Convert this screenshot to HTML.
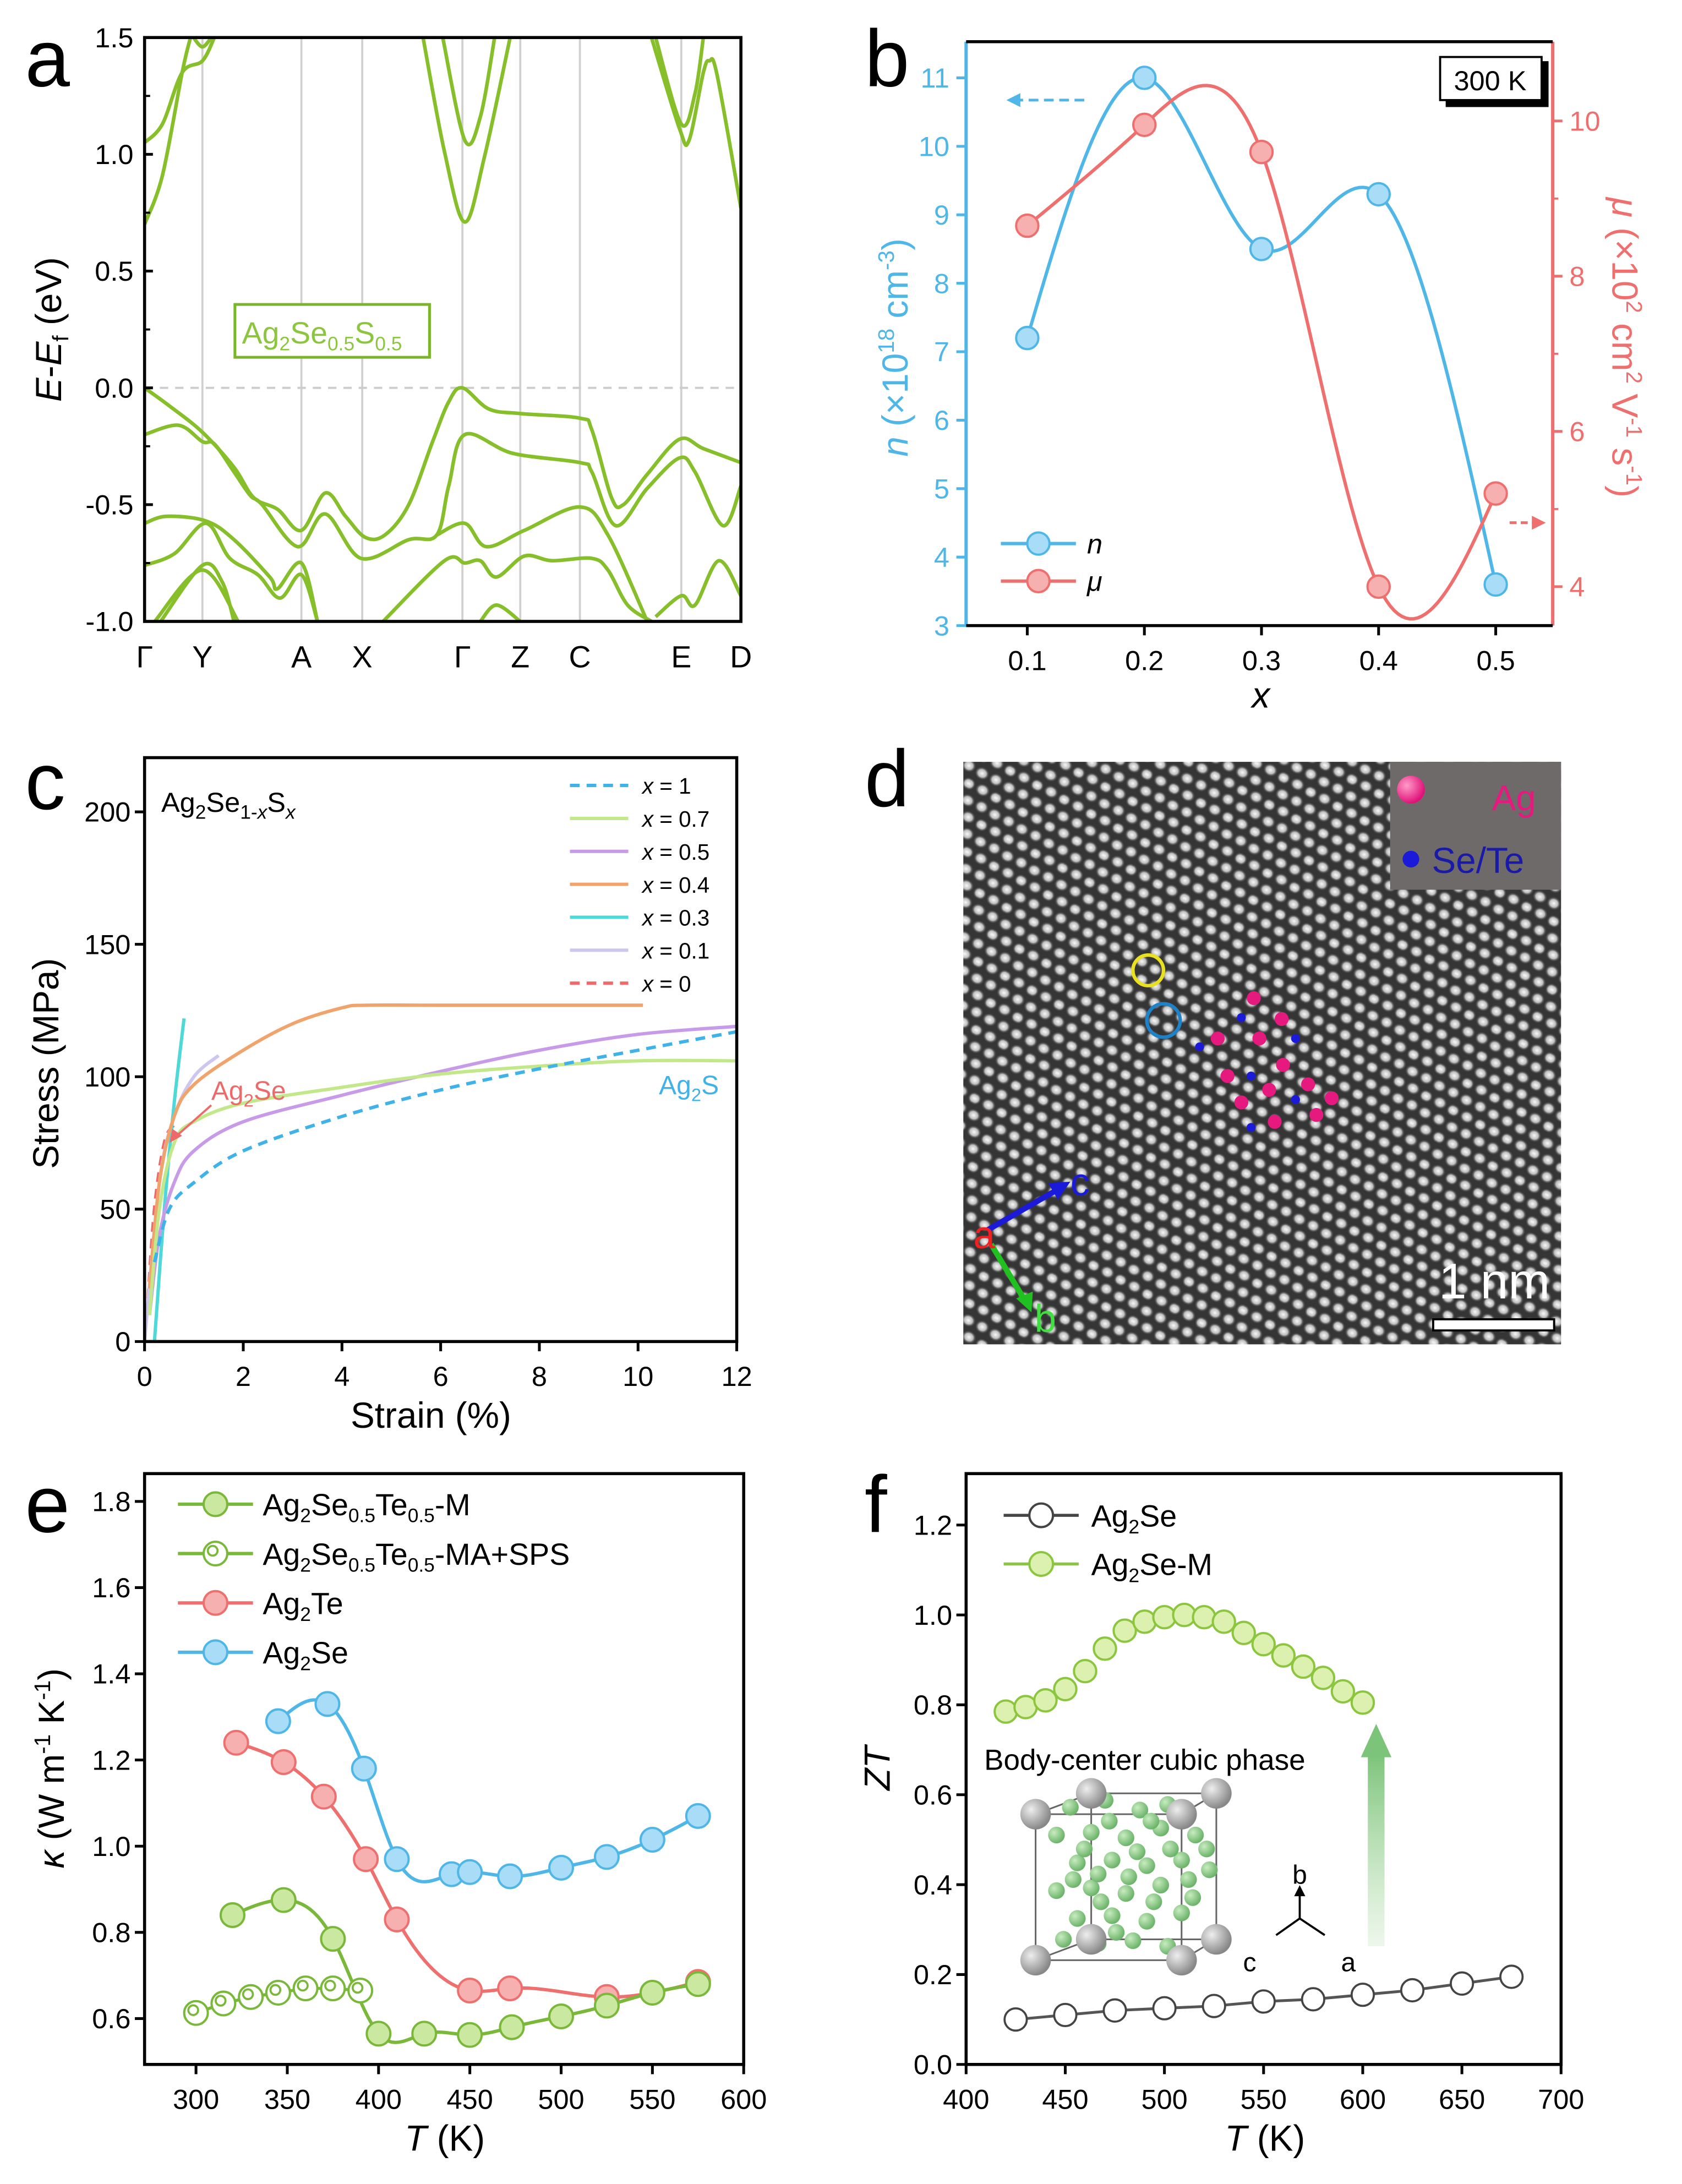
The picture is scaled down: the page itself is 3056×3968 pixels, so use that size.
<!DOCTYPE html>
<html><head><meta charset="utf-8"><title>Ag2Se figure</title>
<style>
html,body{margin:0;padding:0;background:#fff;}
svg{display:block;font-family:"Liberation Sans",sans-serif;}
</style></head>
<body>
<svg id="fig" xmlns="http://www.w3.org/2000/svg" width="3056" height="3968" viewBox="0 0 1210 1571" preserveAspectRatio="none">
<defs>
<radialGradient id="blob" cx="50%" cy="50%" r="50%">
<stop offset="0%" stop-color="#f8f8f8"/><stop offset="55%" stop-color="#bdbdbd"/><stop offset="100%" stop-color="#333" stop-opacity="0"/>
</radialGradient>
<pattern id="lattice" width="22" height="22" patternUnits="userSpaceOnUse" patternTransform="rotate(28)">
<rect width="22" height="22" fill="#353535"/>
<ellipse cx="5" cy="5.5" rx="5.6" ry="4.8" fill="url(#blob)"/>
<ellipse cx="16" cy="5" rx="5.4" ry="4.9" fill="url(#blob)"/>
<ellipse cx="11" cy="16" rx="5.6" ry="4.8" fill="url(#blob)"/>
<ellipse cx="21.5" cy="16.5" rx="4.6" ry="4.6" fill="url(#blob)"/>
<ellipse cx="0.5" cy="16.5" rx="4.6" ry="4.6" fill="url(#blob)"/>
</pattern>
<linearGradient id="greenArrow" x1="0" y1="1" x2="0" y2="0">
<stop offset="0%" stop-color="#a8d8a0" stop-opacity="0.2"/><stop offset="100%" stop-color="#7cc47a"/>
</linearGradient>
<radialGradient id="grayBall" cx="35%" cy="35%" r="65%"><stop offset="0%" stop-color="#eee"/><stop offset="100%" stop-color="#888"/></radialGradient>
<radialGradient id="greenBall" cx="35%" cy="35%" r="65%"><stop offset="0%" stop-color="#c8ecc0"/><stop offset="100%" stop-color="#6cb46a"/></radialGradient>
<radialGradient id="pinkBall" cx="35%" cy="35%" r="65%"><stop offset="0%" stop-color="#ff9cc8"/><stop offset="100%" stop-color="#e0127a"/></radialGradient>
</defs>
<g id="root"></g>
</svg>
<script>
// ---------- data (panel a: bands as [k(0..1), E]) ----------
const kLabels=['Γ','Y','A','X','Γ','Z','C','E','D'];
const kPos=[0,0.097,0.263,0.365,0.533,0.63,0.73,0.9,1];
const bandVB1=[[0,0],[.043,-.08],[.097,-.19],[.15,-.34],[.183,-.47],[.223,-.52],[.263,-.61],[.303,-.45],[.337,-.55],[.37,-.64],[.403,-.63],[.443,-.5],[.483,-.23],[.51,-.06],[.533,0],[.577,-.09],[.63,-.11],[.73,-.13],[.75,-.18],[.783,-.47],[.803,-.5],[.843,-.37],[.897,-.22],[.937,-.26],[1,-.32]];
const bandVB2=[[0,-.2],[.057,-.16],[.097,-.23],[.117,-.24],[.15,-.36],[.177,-.46],[.197,-.5],[.257,-.68],[.303,-.54],[.363,-.73],[.443,-.65],[.49,-.63],[.51,-.42],[.537,-.2],[.617,-.28],[.73,-.32],[.75,-.36],[.79,-.59],[.843,-.43],[.897,-.3],[.923,-.36],[.97,-.59],[1,-.42]];
const bandVB3=[[0,-.58],[.037,-.55],[.103,-.57],[.15,-.65],[.21,-.81],[.223,-.86],[.263,-.75],[.29,-1.0]];
const bandVB3b=[[.49,-.63],[.537,-.58],[.573,-.68],[.637,-.61],[.73,-.51],[.777,-.63],[.843,-1.0]];
const bandVB4=[[0,-.76],[.05,-.71],[.103,-.58],[.143,-.73],[.19,-.8],[.227,-.9],[.263,-.8],[.29,-1.0]];
const bandVB5=[[.027,-1],[.097,-.76],[.13,-.83],[.15,-1]];
const bandVB5b=[[.017,-1],[.097,-.78],[.157,-1]];
const bandVB6=[[.4,-1],[.503,-.74],[.537,-.75],[.563,-.74],[.59,-.81],[.637,-.72],[.683,-.74],[.75,-.73],[.777,-.78],[.81,-.93],[.85,-1]];
const bandVB7=[[.857,-.98],[.9,-.89],[.923,-.93],[.963,-.74],[1,-.89]];
const bandVB8=[[.563,-1],[.59,-.93],[.63,-1]];
const bandCB1=[[0,.7],[.03,.91],[.063,1.35],[.077,1.5]];
const bandCB2=[[0,1.05],[.03,1.13],[.063,1.35],[.097,1.4],[.117,1.5]];
const bandCB3=[[.082,1.5],[.097,1.46],[.112,1.5]];
const bandCB4=[[.467,1.5],[.503,1.01],[.537,.71],[.57,.99],[.613,1.5]];
const bandCB5=[[.5,1.5],[.537,1.06],[.563,1.16],[.587,1.5]];
const bandCB6=[[.85,1.5],[.897,1.11],[.913,1.06],[.937,1.35],[.947,1.4],[.96,1.34],[1,.77]];
const bandCB7=[[.857,1.5],[.9,1.13],[.923,1.26],[.937,1.5]];
const bands=[bandVB1,bandVB2,bandVB3,bandVB3b,bandVB4,bandVB5,bandVB5b,bandVB6,bandVB7,bandVB8,bandCB1,bandCB2,bandCB3,bandCB4,bandCB5,bandCB6,bandCB7];
// panel b
const bX=[0.1,0.2,0.3,0.4,0.5];
const bN=[7.2,11.0,8.5,9.3,3.6];
const bMu=[8.65,9.95,9.6,4.0,5.2];
// panel c: [strain, stress]
const cLabels=['x = 1','x = 0.7','x = 0.5','x = 0.4','x = 0.3','x = 0.1','x = 0'];
const cX1=[[0.2,30],[0.5,50],[1,60],[2,72],[4,85],[6,95],[8,103],[10,110],[12,117]];
const cX07=[[0.1,10],[0.3,50],[0.6,75],[1,83],[2,90],[4,96],[6,101],[8,104],[10,106],[12,106]];
const cX05=[[0.1,10],[0.3,40],[0.6,60],[1,72],[2,83],[4,93],[6,102],[8,110],[10,116],[12,119]];
const cX04=[[0.1,20],[0.3,60],[0.6,85],[1,97],[2,110],[3,120],[4,126],[4.5,127],[6,127],[10.1,127]];
const cX03=[[0.2,0],[0.4,50],[0.6,90],[0.8,122]];
const cX01=[[0,0],[0.3,60],[0.6,85],[1,100],[1.5,108]];
const cX0=[[0.05,10],[0.2,50],[0.4,75],[0.6,82]];
// panel e
const eSeT=[345,372,392,410,440,450,472,500,525,550,575];
const eSeK=[1.29,1.33,1.18,0.97,0.935,0.94,0.93,0.95,0.975,1.015,1.07];
const eTeT=[322,348,370,393,410,450,472,525,575];
const eTeK=[1.24,1.195,1.115,0.97,0.83,0.665,0.67,0.65,0.685];
const eMT=[320,348,375,400,425,450,473,500,525,550,575];
const eMK=[0.84,0.875,0.785,0.565,0.565,0.562,0.58,0.605,0.63,0.66,0.68];
const eMAT=[300,315,330,345,360,375,390];
const eMAK=[0.613,0.635,0.65,0.66,0.67,0.67,0.665];
// panel f
const fSeT=[425,450,475,500,525,550,575,600,625,650,675];
const fSeZT=[0.1,0.11,0.12,0.125,0.13,0.14,0.145,0.155,0.165,0.18,0.195];
const fMT=[420,430,440,450,460,470,480,490,500,510,520,530,540,550,560,570,580,590,600];
const fMZT=[0.785,0.795,0.81,0.835,0.875,0.925,0.965,0.985,0.995,1.0,0.995,0.985,0.96,0.935,0.91,0.885,0.86,0.83,0.805];

// ---------- helpers ----------
const NS='http://www.w3.org/2000/svg';
const root=document.getElementById('root');
function mk(tag,attrs,name,parent,txt){
  const el=document.createElementNS(NS,tag);
  for(const k in attrs)el.setAttribute(k,attrs[k]);
  
  
  if(txt!==undefined)el.innerHTML=txt;
  (parent||root).appendChild(el);return el;
}
function lin(d0,d1,p0,p1){return v=>p0+(v-d0)*(p1-p0)/(d1-d0);}
function catmull(pts){
  if(pts.length<2)return '';
  let d='M'+pts[0][0].toFixed(2)+','+pts[0][1].toFixed(2);
  for(let i=0;i<pts.length-1;i++){
    const p0=pts[i-1]||pts[i],p1=pts[i],p2=pts[i+1],p3=pts[i+2]||p2;
    const c1=[p1[0]+(p2[0]-p0[0])/6,p1[1]+(p2[1]-p0[1])/6];
    const c2=[p2[0]-(p3[0]-p1[0])/6,p2[1]-(p3[1]-p1[1])/6];
    d+=`C${c1[0].toFixed(2)},${c1[1].toFixed(2)} ${c2[0].toFixed(2)},${c2[1].toFixed(2)} ${p2[0].toFixed(2)},${p2[1].toFixed(2)}`;
  }
  return d;
}
function spline(xs,ys){
  const n=xs.length,h=[],a=[],l=[1],mu=[0],z=[0],c=new Array(n).fill(0),b=[],d=[];
  for(let i=0;i<n-1;i++)h.push(xs[i+1]-xs[i]);
  for(let i=1;i<n-1;i++)a[i]=3/h[i]*(ys[i+1]-ys[i])-3/h[i-1]*(ys[i]-ys[i-1]);
  for(let i=1;i<n-1;i++){l[i]=2*(xs[i+1]-xs[i-1])-h[i-1]*mu[i-1];mu[i]=h[i]/l[i];z[i]=(a[i]-h[i-1]*z[i-1])/l[i];}
  for(let j=n-2;j>=0;j--){c[j]=(z[j]||0)-(mu[j]||0)*c[j+1];b[j]=(ys[j+1]-ys[j])/h[j]-h[j]*(c[j+1]+2*c[j])/3;d[j]=(c[j+1]-c[j])/(3*h[j]);}
  return x=>{let i=0;while(i<n-2&&x>xs[i+1])i++;const t=x-xs[i];return ys[i]+b[i]*t+c[i]*t*t+d[i]*t*t*t;};
}
function splinePath(xs,ys,sx,sy){
  const f=spline(xs,ys);let d='';
  const N=120;
  for(let i=0;i<=N;i++){const x=xs[0]+(xs[xs.length-1]-xs[0])*i/N;d+=(i?'L':'M')+sx(x).toFixed(2)+','+sy(f(x)).toFixed(2);}
  return d;
}
function frame(x0,y0,x1,y1,name){mk('rect',{x:x0,y:y0,width:x1-x0,height:y1-y0,fill:'none',stroke:'#000','stroke-width':2.2},name);}
function txt(x,y,s,size,attrs,name){const a=Object.assign({x:x,y:y,'font-size':size},attrs||{});return mk('text',a,name,null,s);}

// ---------- panel letters ----------
[['a',18,62],['b',622,62],['c',18,582],['d',622,580],['e',18,1102],['f',622,1102]].forEach(p=>txt(p[1],p[2],p[0],58,{}, 'panel-label-'+p[0]));

// ---------- Panel a ----------
(function(){
  const X0=104,X1=533,Y0=27,Y1=447;
  const sx=lin(0,1,X0,X1), sy=lin(1.5,-1.0,Y0,Y1);
  kPos.slice(1,-1).forEach((k,i)=>mk('line',{x1:sx(k),x2:sx(k),y1:Y0,y2:Y1,stroke:'#d0d0d0','stroke-width':1.5},'k-gridline'));
  mk('line',{x1:X0,x2:X1,y1:sy(0),y2:sy(0),stroke:'#ccc','stroke-width':1.5,'stroke-dasharray':'6 5'},'fermi-level-line');
  const cp=mk('clipPath',{id:'clipA'},'clip-a');
  mk('rect',{x:X0,y:Y0,width:X1-X0,height:Y1-Y0},'clip-rect',cp);
  const g=mk('g',{'clip-path':'url(#clipA)'},'band-group');
  bands.forEach((b,i)=>mk('path',{d:catmull(b.map(p=>[sx(p[0]),sy(p[1])])),fill:'none',stroke:'#86bf2a','stroke-width':2.6,'stroke-linejoin':'round'},'band-'+i,g));
  frame(X0,Y0,X1,Y1,'plot-frame-a');
  [1.5,1.0,0.5,0.0,-0.5,-1.0].forEach(v=>{
    mk('line',{x1:X0,x2:X0+6,y1:sy(v),y2:sy(v),stroke:'#000','stroke-width':2},'y-tick-a');
    txt(X0-8,sy(v)+7,v.toFixed(1),20,{'text-anchor':'end'},'y-tick-label-a');
  });
  [1.25,0.75,0.25,-0.25,-0.75].forEach(v=>mk('line',{x1:X0,x2:X0+4,y1:sy(v),y2:sy(v),stroke:'#000','stroke-width':1.5},'y-minor-tick-a'));
  kPos.forEach((k,i)=>txt(sx(k),480,kLabels[i],22,{'text-anchor':'middle'},'k-label'));
  txt(0,0,'<tspan font-style="italic">E</tspan>-<tspan font-style="italic">E</tspan><tspan font-size="16" dy="5">f</tspan><tspan dy="-5"> (eV)</tspan>',26,{transform:'translate(44,237) rotate(-90)','text-anchor':'middle'},'y-axis-title-a');
  mk('rect',{x:169,y:219,width:140,height:38,fill:'#fff',stroke:'#7ab52a','stroke-width':2},'compound-label-box');
  txt(174,247,'Ag<tspan font-size="14" dy="5">2</tspan><tspan dy="-5">Se</tspan><tspan font-size="14" dy="5">0.5</tspan><tspan dy="-5">S</tspan><tspan font-size="14" dy="5">0.5</tspan>',22,{fill:'#8cc63f'},'compound-label');
})();

// ---------- Panel b ----------
(function(){
  const X0=695,X1=1117,Y0=30,Y1=450;
  const sx=lin(0.1,0.5,739,1076), syL=lin(3,11,450,56), syR=lin(4,10,422,87);
  const blue='#4fb6e8', red='#ef6f6f';
  mk('path',{d:splinePath(bX,bN,sx,syL),fill:'none',stroke:blue,'stroke-width':2.4},'n-curve');
  mk('path',{d:splinePath(bX,bMu,sx,syR),fill:'none',stroke:red,'stroke-width':2.4},'mu-curve');
  bX.forEach((x,i)=>mk('circle',{cx:sx(x),cy:syL(bN[i]),r:8,fill:'#a9dcf6',stroke:blue,'stroke-width':1.6},'n-point'));
  bX.forEach((x,i)=>mk('circle',{cx:sx(x),cy:syR(bMu[i]),r:8,fill:'#f6b0b0',stroke:red,'stroke-width':1.6},'mu-point'));
  mk('line',{x1:X0,x2:X0,y1:Y0,y2:Y1,stroke:blue,'stroke-width':2.4},'left-axis-b');
  mk('line',{x1:X1,x2:X1,y1:Y0,y2:Y1,stroke:red,'stroke-width':2.4},'right-axis-b');
  mk('line',{x1:X0,x2:X1,y1:Y1,y2:Y1,stroke:'#000','stroke-width':2.2},'bottom-axis-b');
  mk('line',{x1:X0,x2:X1,y1:Y0,y2:Y0,stroke:'#000','stroke-width':2.2},'top-axis-b');
  [3,4,5,6,7,8,9,10,11].forEach(v=>{mk('line',{x1:X0,x2:X0-7,y1:syL(v),y2:syL(v),stroke:blue,'stroke-width':2},'y-tick-left-b');
    txt(X0-12,syL(v)+7,v,20,{'text-anchor':'end',fill:blue},'y-tick-label-left-b');});
  [4,6,8,10].forEach(v=>{mk('line',{x1:X1,x2:X1+7,y1:syR(v),y2:syR(v),stroke:red,'stroke-width':2},'y-tick-right-b');
    txt(X1+12,syR(v)+7,v,20,{fill:red},'y-tick-label-right-b');});
  [5,7,9].forEach(v=>mk('line',{x1:X1,x2:X1+4,y1:syR(v),y2:syR(v),stroke:red,'stroke-width':1.5},'y-minor-right-b'));
  bX.forEach(v=>{mk('line',{x1:sx(v),x2:sx(v),y1:Y1,y2:Y1+7,stroke:'#000','stroke-width':2},'x-tick-b');
    txt(sx(v),Y1+32,v.toFixed(1),20,{'text-anchor':'middle'},'x-tick-label-b');});
  txt(907,509,'x',26,{'font-style':'italic','text-anchor':'middle'},'x-axis-title-b');
  txt(0,0,'<tspan font-style="italic">n</tspan> (×10<tspan font-size="16" dy="-10">18</tspan><tspan dy="10"> cm</tspan><tspan font-size="16" dy="-10">-3</tspan><tspan dy="10">)</tspan>',26,{transform:'translate(653,250) rotate(-90)','text-anchor':'middle',fill:blue},'y-axis-title-left-b');
  txt(0,0,'<tspan font-style="italic">μ</tspan> (×10<tspan font-size="16" dy="-10">2</tspan><tspan dy="10"> cm</tspan><tspan font-size="16" dy="-10">2</tspan><tspan dy="10"> V</tspan><tspan font-size="16" dy="-10">-1</tspan><tspan dy="10"> s</tspan><tspan font-size="16" dy="-10">-1</tspan><tspan dy="10">)</tspan>',26,{transform:'translate(1160,250) rotate(90)','text-anchor':'middle',fill:red},'y-axis-title-right-b');
  mk('rect',{x:1040,y:44,width:74,height:33,fill:'#000'},'temp-box-shadow');
  mk('rect',{x:1036,y:41,width:73,height:31,fill:'#fff',stroke:'#000','stroke-width':1.5},'temp-box');
  txt(1072,65,'300 K',20,{'text-anchor':'middle'},'temp-label');
  mk('line',{x1:780,x2:732,y1:72,y2:72,stroke:blue,'stroke-width':2,'stroke-dasharray':'7 4'},'n-axis-arrow');
  mk('path',{d:'M724,72 L734,67 L734,77 Z',fill:blue},'n-axis-arrowhead');
  mk('line',{x1:1086,x2:1104,y1:376,y2:376,stroke:red,'stroke-width':2,'stroke-dasharray':'5 3'},'mu-axis-arrow');
  mk('path',{d:'M1112,376 L1102,371 L1102,381 Z',fill:red},'mu-axis-arrowhead');
  [[391,blue,'#a9dcf6','n'],[418,red,'#f6b0b0','μ']].forEach(l=>{
    mk('line',{x1:720,x2:774,y1:l[0],y2:l[0],stroke:l[1],'stroke-width':2.4},'legend-line-b');
    mk('circle',{cx:747,cy:l[0],r:8,fill:l[2],stroke:l[1],'stroke-width':1.6},'legend-marker-b');
    txt(782,l[0]+7,l[3],20,{'font-style':'italic'},'legend-label-b');
  });
})();

// ---------- Panel c ----------
(function(){
  const X0=104,X1=530,Y0=545,Y1=965;
  const sx=lin(0,12,X0,X1), sy=lin(0,200,Y1,584);
  const series=[[cX1,'#3fb2ea','7 5'],[cX07,'#c2e88a',''],[cX05,'#c79be8',''],[cX04,'#f0a46c',''],[cX03,'#4fd8d8',''],[cX01,'#cfc6f0',''],[cX0,'#ee6a6a','7 5']];
  const cp=mk('clipPath',{id:'clipC'},'clip-c');
  mk('rect',{x:X0,y:Y0,width:X1-X0,height:Y1-Y0},'clip-rect-c',cp);
  const g=mk('g',{'clip-path':'url(#clipC)'},'stress-curves');
  series.slice().reverse().forEach((s,i)=>mk('path',{d:catmull(s[0].map(p=>[sx(p[0]),sy(p[1])])),fill:'none',stroke:s[1],'stroke-width':2.4,'stroke-dasharray':s[2]},'stress-curve',g));
  frame(X0,Y0,X1,Y1,'plot-frame-c');
  [0,50,100,150,200].forEach(v=>{mk('line',{x1:X0,x2:X0-7,y1:sy(v),y2:sy(v),stroke:'#000','stroke-width':2},'y-tick-c');
    txt(X0-10,sy(v)+7,v,20,{'text-anchor':'end'},'y-tick-label-c');});
  [0,2,4,6,8,10,12].forEach(v=>{mk('line',{x1:sx(v),x2:sx(v),y1:Y1,y2:Y1+7,stroke:'#000','stroke-width':2},'x-tick-c');
    txt(sx(v),Y1+32,v,20,{'text-anchor':'middle'},'x-tick-label-c');});
  txt(0,0,'Stress (MPa)',26,{transform:'translate(42,765) rotate(-90)','text-anchor':'middle'},'y-axis-title-c');
  txt(310,1027,'Strain (%)',26,{'text-anchor':'middle'},'x-axis-title-c');
  txt(116,584,'Ag<tspan font-size="14" dy="5">2</tspan><tspan dy="-5">Se</tspan><tspan font-size="14" dy="5">1-<tspan font-style="italic">x</tspan></tspan><tspan dy="-5">S</tspan><tspan font-size="14" dy="5" font-style="italic">x</tspan>',20,{},'composition-label');
  series.forEach((s,i)=>{const y=565+i*23.7;
    mk('line',{x1:410,x2:452,y1:y,y2:y,stroke:s[1],'stroke-width':2.4,'stroke-dasharray':s[2]},'legend-line-c');
    txt(462,y+6,'<tspan font-style="italic">x</tspan>'+cLabels[i].slice(1),16,{},'legend-label-c');});
  txt(152,791,'Ag<tspan font-size="13" dy="5">2</tspan><tspan dy="-5">Se</tspan>',19,{fill:'#ee6a6a'},'ag2se-annotation');
  mk('line',{x1:152,x2:126,y1:795,y2:818,stroke:'#ee6a6a','stroke-width':1.5},'ag2se-arrow');
  mk('path',{d:'M122,822 L124,812 L131,817 Z',fill:'#ee6a6a'},'ag2se-arrowhead');
  txt(474,787,'Ag<tspan font-size="13" dy="5">2</tspan><tspan dy="-5">S</tspan>',19,{fill:'#3fb2ea'},'ag2s-annotation');
})();

// ---------- Panel d (TEM) ----------
(function(){
  mk('rect',{x:693,y:548,width:430,height:419,fill:'url(#lattice)'},'tem-image');
  mk('rect',{x:1000,y:548,width:123,height:92,fill:'#6e6a6a'},'tem-legend-box');
  mk('circle',{cx:1015,cy:568,r:10,fill:'url(#pinkBall)'},'ag-legend-ball');
  txt(1105,583,'Ag',26,{fill:'#e6197f','text-anchor':'end'},'ag-legend-label');
  mk('circle',{cx:1015,cy:618,r:6,fill:'#1a1ad8'},'se-legend-ball');
  txt(1030,628,'Se/Te',26,{fill:'#1a1aa8'},'se-legend-label');
  mk('circle',{cx:826,cy:698,r:11,fill:'none',stroke:'#e8e020','stroke-width':2.5},'yellow-circle');
  mk('circle',{cx:837,cy:734,r:12,fill:'none',stroke:'#1e82c8','stroke-width':2.5},'blue-circle');
  const agPts=[[902,718],[922,733],[876,747],[906,747],[923,766],[883,774],[941,780],[893,793],[913,784],[958,790],[947,802],[917,807]];
  const sePts=[[893,732],[932,747],[863,753],[900,774],[932,791],[900,811]];
  agPts.forEach(p=>mk('circle',{cx:p[0],cy:p[1],r:5,fill:'#e6197f'},'ag-atom-marker'));
  sePts.forEach(p=>mk('circle',{cx:p[0],cy:p[1],r:3.2,fill:'#1a1ad8'},'se-atom-marker'));
  mk('line',{x1:710,y1:885,x2:762,y2:855,stroke:'#1a1ad8','stroke-width':4},'c-axis-arrow');
  mk('path',{d:'M770,850 L754,851 L761,863 Z',fill:'#1a1ad8'},'c-axis-arrowhead');
  mk('line',{x1:713,y1:895,x2:737,y2:935,stroke:'#20c020','stroke-width':4},'b-axis-arrow');
  mk('path',{d:'M742,944 L731,934 L743,929 Z',fill:'#20c020'},'b-axis-arrowhead');
  txt(777,860,'c',28,{fill:'#1a1ad8','text-anchor':'middle'},'c-axis-label');
  txt(708,898,'a',28,{fill:'#f02020','text-anchor':'middle'},'a-axis-label');
  txt(752,958,'b',28,{fill:'#40e040','text-anchor':'middle'},'b-axis-label');
  txt(1075,934,'1 nm',36,{fill:'#fff','text-anchor':'middle'},'scale-bar-label');
  mk('rect',{x:1031,y:949,width:87,height:8,fill:'#fff',stroke:'#000','stroke-width':1.5},'scale-bar');
})();

// ---------- Panel e ----------
(function(){
  const X0=104,X1=535,Y0=1060,Y1=1485;
  const sx=lin(300,600,141,535), sy=lin(0.6,1.8,1452,1080);
  const green='#7ab83a',gfill='#cbe8a0',red='#ef6f6f',rfill='#f6b0b0',blue='#4fb6e8',bfill='#a9dcf6';
  mk('path',{d:splinePath(eSeT,eSeK,sx,sy),fill:'none',stroke:blue,'stroke-width':2.4},'ag2se-kappa-curve');
  mk('path',{d:splinePath(eTeT,eTeK,sx,sy),fill:'none',stroke:red,'stroke-width':2.4},'ag2te-kappa-curve');
  mk('path',{d:splinePath(eMT,eMK,sx,sy),fill:'none',stroke:green,'stroke-width':2.4},'m-kappa-curve');
  mk('path',{d:eMAT.map((t,i)=>(i?'L':'M')+sx(t)+','+sy(eMAK[i])).join(''),fill:'none',stroke:green,'stroke-width':2.2},'ma-kappa-line');
  eSeT.forEach((t,i)=>mk('circle',{cx:sx(t),cy:sy(eSeK[i]),r:8.5,fill:bfill,stroke:blue,'stroke-width':1.6},'ag2se-kappa-point'));
  eTeT.forEach((t,i)=>mk('circle',{cx:sx(t),cy:sy(eTeK[i]),r:8.5,fill:rfill,stroke:red,'stroke-width':1.6},'ag2te-kappa-point'));
  eMT.forEach((t,i)=>mk('circle',{cx:sx(t),cy:sy(eMK[i]),r:8.5,fill:gfill,stroke:green,'stroke-width':1.6},'m-kappa-point'));
  eMAT.forEach((t,i)=>{mk('circle',{cx:sx(t),cy:sy(eMAK[i]),r:8.5,fill:'#fff',stroke:green,'stroke-width':1.6},'ma-kappa-point');
    mk('circle',{cx:sx(t)-2,cy:sy(eMAK[i])-2,r:3.5,fill:'none',stroke:green,'stroke-width':1.5},'ma-kappa-point-inner');});
  frame(X0,Y0,X1,Y1,'plot-frame-e');
  [0.6,0.8,1.0,1.2,1.4,1.6,1.8].forEach(v=>{mk('line',{x1:X0,x2:X0-7,y1:sy(v),y2:sy(v),stroke:'#000','stroke-width':2},'y-tick-e');
    txt(X0-10,sy(v)+7,v.toFixed(1),20,{'text-anchor':'end'},'y-tick-label-e');});
  [300,350,400,450,500,550,600].forEach(v=>{mk('line',{x1:sx(v),x2:sx(v),y1:Y1,y2:Y1+7,stroke:'#000','stroke-width':2},'x-tick-e');
    txt(sx(v),Y1+32,v,20,{'text-anchor':'middle'},'x-tick-label-e');});
  txt(0,0,'<tspan font-style="italic">κ</tspan> (W m<tspan font-size="16" dy="-10">-1</tspan><tspan dy="10"> K</tspan><tspan font-size="16" dy="-10">-1</tspan><tspan dy="10">)</tspan>',26,{transform:'translate(46,1272) rotate(-90)','text-anchor':'middle'},'y-axis-title-e');
  txt(320,1547,'<tspan font-style="italic">T</tspan> (K)',26,{'text-anchor':'middle'},'x-axis-title-e');
  const leg=[['Ag<tspan font-size="14" dy="5">2</tspan><tspan dy="-5">Se</tspan><tspan font-size="14" dy="5">0.5</tspan><tspan dy="-5">Te</tspan><tspan font-size="14" dy="5">0.5</tspan><tspan dy="-5">-M</tspan>',green,gfill,false],
    ['Ag<tspan font-size="14" dy="5">2</tspan><tspan dy="-5">Se</tspan><tspan font-size="14" dy="5">0.5</tspan><tspan dy="-5">Te</tspan><tspan font-size="14" dy="5">0.5</tspan><tspan dy="-5">-MA+SPS</tspan>',green,'#fff',true],
    ['Ag<tspan font-size="14" dy="5">2</tspan><tspan dy="-5">Te</tspan>',red,rfill,false],
    ['Ag<tspan font-size="14" dy="5">2</tspan><tspan dy="-5">Se</tspan>',blue,bfill,false]];
  leg.forEach((l,i)=>{const y=1082+i*35.5;
    mk('line',{x1:128,x2:182,y1:y,y2:y,stroke:l[1],'stroke-width':2.4},'legend-line-e');
    mk('circle',{cx:155,cy:y,r:8.5,fill:l[2],stroke:l[1],'stroke-width':1.6},'legend-marker-e');
    if(l[3])mk('circle',{cx:153,cy:y-2,r:3.5,fill:'none',stroke:l[1],'stroke-width':1.5},'legend-marker-inner-e');
    txt(189,y+8,l[0],22,{},'legend-label-e');});
})();

// ---------- Panel f ----------
(function(){
  const X0=695,X1=1123,Y0=1060,Y1=1485;
  const sx=lin(400,700,X0,X1), sy=lin(0,1.2,Y1,1097);
  mk('path',{d:fSeT.map((t,i)=>(i?'L':'M')+sx(t)+','+sy(fSeZT[i])).join(''),fill:'none',stroke:'#555','stroke-width':2},'ag2se-zt-line');
  fSeT.forEach((t,i)=>mk('circle',{cx:sx(t),cy:sy(fSeZT[i]),r:8,fill:'#fff',stroke:'#444','stroke-width':1.5},'ag2se-zt-point'));
  fMT.forEach((t,i)=>mk('circle',{cx:sx(t),cy:sy(fMZT[i]),r:8,fill:'#dcf0b0',stroke:'#8cc63f','stroke-width':1.6},'m-zt-point'));
  mk('rect',{x:984,y:1262,width:12,height:138,fill:'url(#greenArrow)'},'green-arrow-shaft');
  mk('path',{d:'M979,1264 L990,1240 L1001,1264 Z',fill:'#7cc47a'},'green-arrow-head');
  frame(X0,Y0,X1,Y1,'plot-frame-f');
  [0,0.2,0.4,0.6,0.8,1.0,1.2].forEach(v=>{mk('line',{x1:X0,x2:X0-7,y1:sy(v),y2:sy(v),stroke:'#000','stroke-width':2},'y-tick-f');
    txt(X0-10,sy(v)+7,v.toFixed(1),20,{'text-anchor':'end'},'y-tick-label-f');});
  [400,450,500,550,600,650,700].forEach(v=>{mk('line',{x1:sx(v),x2:sx(v),y1:Y1,y2:Y1+7,stroke:'#000','stroke-width':2},'x-tick-f');
    txt(sx(v),Y1+32,v,20,{'text-anchor':'middle'},'x-tick-label-f');});
  txt(0,0,'ZT',26,{'font-style':'italic',transform:'translate(640,1272) rotate(-90)','text-anchor':'middle'},'y-axis-title-f');
  txt(910,1547,'<tspan font-style="italic">T</tspan> (K)',26,{'text-anchor':'middle'},'x-axis-title-f');
  [['Ag<tspan font-size="14" dy="5">2</tspan><tspan dy="-5">Se</tspan>','#444','#fff',1090],['Ag<tspan font-size="14" dy="5">2</tspan><tspan dy="-5">Se-M</tspan>','#8cc63f','#dcf0b0',1125]].forEach(l=>{
    mk('line',{x1:722,x2:776,y1:l[3],y2:l[3],stroke:l[1],'stroke-width':2.2},'legend-line-f');
    mk('circle',{cx:749,cy:l[3],r:8.5,fill:l[2],stroke:l[1],'stroke-width':1.6},'legend-marker-f');
    txt(785,l[3]+8,l[0],22,{},'legend-label-f');});
  txt(708,1273,'Body-center cubic phase',21,{},'inset-title');
  const cube=mk('g',{},'crystal-inset');
  const f=[[745,1305],[850,1305],[850,1410],[745,1410]], b=[[785,1290],[875,1290],[875,1395],[785,1395]];
  mk('path',{d:'M'+f.join('L')+'Z',fill:'none',stroke:'#666','stroke-width':1.2},'cube-front',cube);
  mk('path',{d:'M'+b.join('L')+'Z',fill:'none',stroke:'#666','stroke-width':1.2},'cube-back',cube);
  for(let i=0;i<4;i++)mk('line',{x1:f[i][0],y1:f[i][1],x2:b[i][0],y2:b[i][1],stroke:'#666','stroke-width':1.2},'cube-edge',cube);
  const gp=[[770,1300],[795,1295],[820,1302],[840,1298],[760,1320],[785,1318],[810,1322],[835,1315],[860,1320],[775,1340],[800,1338],[825,1342],[850,1338],[870,1345],[760,1360],[785,1358],[810,1362],[835,1356],[858,1365],[775,1380],[800,1378],[825,1382],[850,1376],[790,1398],[815,1396],[840,1400],[765,1395],[798,1310],[818,1332],[842,1330],[790,1348],[812,1350],[830,1368],[792,1368],[855,1352],[772,1352],[803,1390],[828,1310],[780,1330],[868,1330]];
  gp.forEach(p=>mk('circle',{cx:p[0],cy:p[1],r:6,fill:'url(#greenBall)'},'green-atom',cube));
  f.concat(b).forEach(p=>mk('circle',{cx:p[0],cy:p[1],r:11,fill:'url(#grayBall)'},'corner-atom',cube));
  mk('line',{x1:935,y1:1380,x2:935,y2:1362,stroke:'#000','stroke-width':1.5},'triad-b');
  mk('path',{d:'M931,1364 L935,1356 L939,1364 Z'},'triad-b-head');
  mk('line',{x1:935,y1:1380,x2:918,y2:1392,stroke:'#000','stroke-width':1.5},'triad-c');
  mk('line',{x1:935,y1:1380,x2:953,y2:1392,stroke:'#000','stroke-width':1.5},'triad-a');
  txt(935,1355,'b',19,{'text-anchor':'middle'},'triad-b-label');
  txt(899,1418,'c',19,{'text-anchor':'middle'},'triad-c-label');
  txt(970,1418,'a',19,{'text-anchor':'middle'},'triad-a-label');
})();
</script>
</body></html>
